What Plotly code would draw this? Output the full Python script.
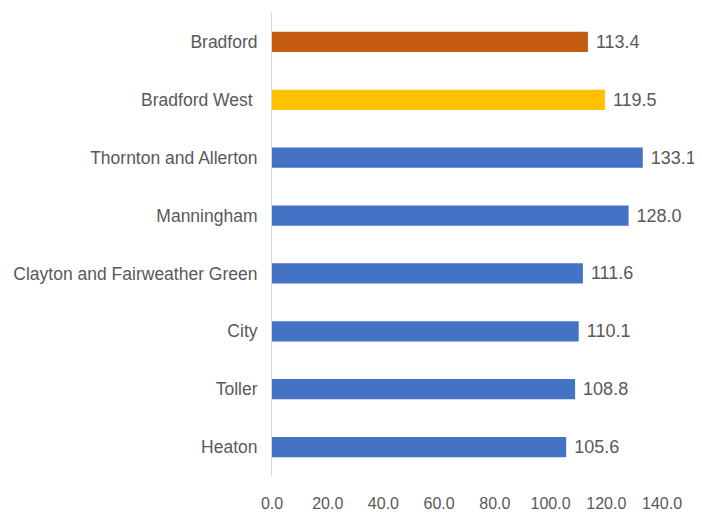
import plotly.graph_objects as go

# wards, top to bottom as in the source chart
wards = ["Bradford", "Bradford West ", "Thornton and Allerton", "Manningham",
         "Clayton and Fairweather Green", "City", "Toller", "Heaton"]
values = [113.4, 119.5, 133.1, 128.0, 111.6, 110.1, 108.8, 105.6]
bar_colours = ["#C55A11", "#FFC000", "#4472C4", "#4472C4",
               "#4472C4", "#4472C4", "#4472C4", "#4472C4"]
x_ticks = [0, 20, 40, 60, 80, 100, 120, 140]

FONT = "Liberation Sans, Arial, sans-serif"
GREY = "#595959"

fig = go.Figure()
fig.add_trace(go.Bar(
    y=wards,
    x=values,
    orientation="h",
    marker=dict(color=bar_colours, line=dict(width=0)),
    text=["\u00a0" + f"{v:.1f}" for v in values],
    textposition="outside",
    constraintext="none",
    textfont=dict(family=FONT, size=18, color=GREY),
    cliponaxis=False,
    hoverinfo="skip",
))

# the page puts the figure 8px in from the top-left corner
fig.update_layout(
    width=702, height=514,
    margin=dict(l=264, r=48, t=5, b=46),
    paper_bgcolor="white",
    plot_bgcolor="white",
    bargap=0.65,
    showlegend=False,
    font=dict(family=FONT, size=18, color=GREY),
)
fig.update_xaxes(
    range=[0, 140],
    tickvals=x_ticks,
    ticktext=[f"{t:.1f}" for t in x_ticks],
    tickangle=0,
    automargin=False,
    showgrid=False,
    zeroline=False,
    showline=False,
    ticks="",
    ticklabelstandoff=16,
    tickfont=dict(family=FONT, size=16, color=GREY),
)
fig.update_yaxes(
    categoryorder="array",
    categoryarray=wards[::-1],
    automargin=False,
    showgrid=False,
    zeroline=False,
    showline=True,
    linecolor="#D9D9D9",
    linewidth=1,
    ticks="",
    ticklabelstandoff=10,
    tickfont=dict(family=FONT, size=17.5, color=GREY),
)

fig.write_html("out.html")
